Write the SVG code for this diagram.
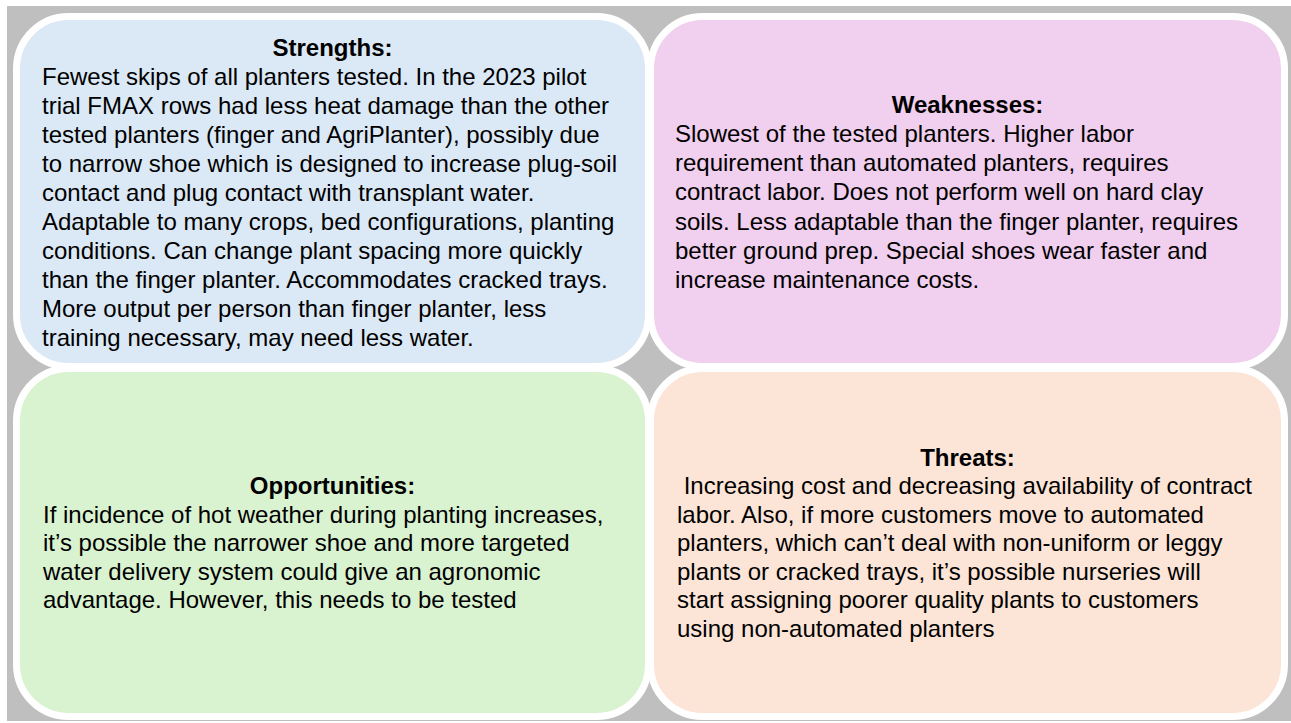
<svg xmlns="http://www.w3.org/2000/svg" width="1291" height="723" viewBox="0 0 1291 723">
<style>
.box{stroke:#ffffff;stroke-width:7}
.t{font-family:"Liberation Sans",Arial,sans-serif;font-size:24px;fill:#000000}
.h{font-weight:bold;text-anchor:middle}
</style>
<rect x="0" y="0" width="1291" height="723" fill="#ffffff"/>
<rect x="7" y="6" width="1284" height="715" fill="#bfbfbf"/>
<g id="strengths">
<rect class="box" x="16.5" y="16.5" width="632" height="350" rx="52" fill="#dbe8f5"/>
<text class="t h" x="332.5" y="56">Strengths:</text>
<text class="t" x="42" y="85">Fewest skips of all planters tested. In the 2023 pilot</text>
<text class="t" x="42" y="114">trial FMAX rows had less heat damage than the other</text>
<text class="t" x="42" y="143">tested planters (finger and AgriPlanter), possibly due</text>
<text class="t" x="42" y="172">to narrow shoe which is designed to increase plug-soil</text>
<text class="t" x="42" y="201">contact and plug contact with transplant water.</text>
<text class="t" x="42" y="230">Adaptable to many crops, bed configurations, planting</text>
<text class="t" x="42" y="259">conditions. Can change plant spacing more quickly</text>
<text class="t" x="42" y="288">than the finger planter. Accommodates cracked trays.</text>
<text class="t" x="42" y="317">More output per person than finger planter, less</text>
<text class="t" x="42" y="346">training necessary, may need less water.</text>
</g>
<g id="weaknesses">
<rect class="box" x="650.5" y="16.5" width="634" height="350" rx="52" fill="#f1cfee"/>
<text class="t h" x="967.5" y="112.5">Weaknesses:</text>
<text class="t" x="675" y="141.75">Slowest of the tested planters. Higher labor</text>
<text class="t" x="675" y="171">requirement than automated planters, requires</text>
<text class="t" x="675" y="200.25">contract labor. Does not perform well on hard clay</text>
<text class="t" x="675" y="229.5">soils. Less adaptable than the finger planter, requires</text>
<text class="t" x="675" y="258.75">better ground prep. Special shoes wear faster and</text>
<text class="t" x="675" y="288">increase maintenance costs.</text>
</g>
<g id="opportunities">
<rect class="box" x="16.5" y="368.5" width="632" height="348" rx="52" fill="#d9f2d0"/>
<text class="t h" x="332.5" y="494">Opportunities:</text>
<text class="t" x="43" y="522.5">If incidence of hot weather during planting increases,</text>
<text class="t" x="43" y="551">it’s possible the narrower shoe and more targeted</text>
<text class="t" x="43" y="579.5">water delivery system could give an agronomic</text>
<text class="t" x="43" y="608">advantage. However, this needs to be tested</text>
</g>
<g id="threats">
<rect class="box" x="650.5" y="368.5" width="634" height="348" rx="52" fill="#fce4d6"/>
<text class="t h" x="967.5" y="465.5">Threats:</text>
<text class="t" x="677" y="494" xml:space="preserve"> Increasing cost and decreasing availability of contract</text>
<text class="t" x="677" y="522.5">labor. Also, if more customers move to automated</text>
<text class="t" x="677" y="551">planters, which can’t deal with non-uniform or leggy</text>
<text class="t" x="677" y="579.5">plants or cracked trays, it’s possible nurseries will</text>
<text class="t" x="677" y="608">start assigning poorer quality plants to customers</text>
<text class="t" x="677" y="636.5">using non-automated planters</text>
</g>
<g id="connectors"/>
</svg>
